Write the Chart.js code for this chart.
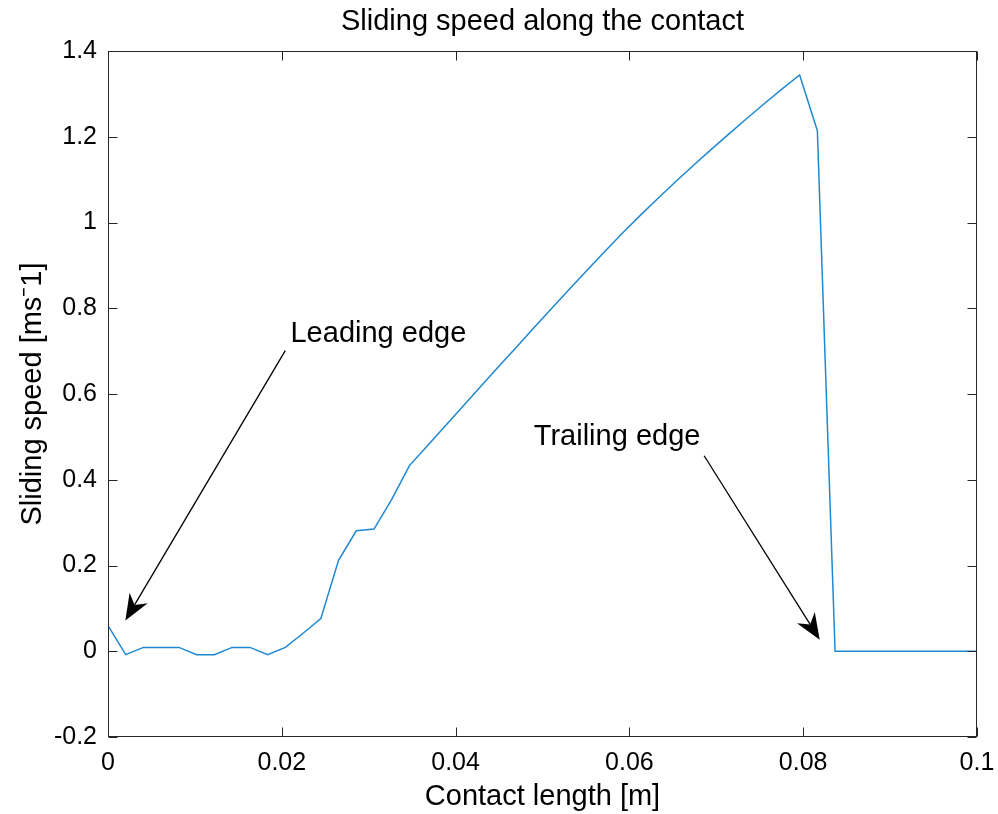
<!DOCTYPE html>
<html>
<head>
<meta charset="utf-8">
<title>Sliding speed along the contact</title>
<script src="https://cdn.jsdelivr.net/npm/chart.js@4"></script>
<style>
  html, body { margin: 0; padding: 0; background: #fff; }
  #wrap { width: 998px; height: 814px; }
</style>
</head>
<body>
<div id="wrap"><canvas id="speedChart" width="998" height="814"></canvas></div>
<script>
// contact position [m], 50 samples across the contact
const contactLength = [
  0, 0.00204, 0.00408, 0.00612, 0.00816, 0.01020, 0.01224, 0.01429, 0.01633, 0.01837,
  0.02041, 0.02245, 0.02449, 0.02653, 0.02857, 0.03061, 0.03265, 0.03469, 0.03673, 0.03878,
  0.04082, 0.04286, 0.04490, 0.04694, 0.04898, 0.05102, 0.05306, 0.05510, 0.05714, 0.05918,
  0.06122, 0.06327, 0.06531, 0.06735, 0.06939, 0.07143, 0.07347, 0.07551, 0.07755, 0.07959,
  0.08163, 0.08367, 0.08571, 0.08776, 0.08980, 0.09184, 0.09388, 0.09592, 0.09796, 0.1
];
// sliding speed [m/s]
const slidingSpeed = [
  0.060, -0.008, 0.009, 0.009, 0.009, -0.008, -0.008, 0.009, 0.009, -0.008,
  0.009, 0.042, 0.076, 0.212, 0.281, 0.285, 0.354, 0.433, 0.479, 0.525,
  0.571, 0.617, 0.663, 0.708, 0.754, 0.799, 0.844, 0.888, 0.932, 0.975,
  1.016, 1.056, 1.095, 1.133, 1.170, 1.206, 1.242, 1.277, 1.311, 1.344,
  1.214, 0, 0, 0, 0, 0, 0, 0, 0, 0
];

const xTickValues = [0, 0.02, 0.04, 0.06, 0.08, 0.1];
const xTickLabels = ["0", "0.02", "0.04", "0.06", "0.08", "0.1"];
const yTickValues = [-0.2, 0, 0.2, 0.4, 0.6, 0.8, 1, 1.2, 1.4];
const yTickLabels = ["-0.2", "0", "0.2", "0.4", "0.6", "0.8", "1", "1.2", "1.4"];

// annotations: label anchor + arrow from -> to, in data units
const notes = [
  { text: "Leading edge",  tx: 0.0210, ty: 0.722, from: [0.0204, 0.701], to: [0.0020, 0.072] },
  { text: "Trailing edge", tx: 0.0490, ty: 0.482, from: [0.0686, 0.456], to: [0.0819, 0.027] }
];

const FONT = "'Liberation Sans', Arial, Helvetica, sans-serif";

// box + inward ticks on all four sides
const matlabAxes = {
  id: "matlabAxes",
  afterDraw(chart) {
    const { ctx, chartArea: a, scales: { x, y } } = chart;
    const tl = 9;
    ctx.save();
    ctx.strokeStyle = "#262626";
    ctx.lineWidth = 1;
    const L = Math.round(a.left) + 0.5, R = Math.round(a.right) - 0.5;
    const T = Math.round(a.top) + 0.5, B = Math.round(a.bottom) - 0.5;
    ctx.strokeRect(L, T, R - L, B - T);
    ctx.beginPath();
    xTickValues.forEach(v => {
      const px = Math.round(x.getPixelForValue(v)) + 0.5;
      ctx.moveTo(px, B); ctx.lineTo(px, B - tl);
      ctx.moveTo(px, T); ctx.lineTo(px, T + tl);
    });
    yTickValues.forEach(v => {
      const py = Math.round(y.getPixelForValue(v)) + 0.5;
      ctx.moveTo(L, py); ctx.lineTo(L + tl, py);
      ctx.moveTo(R, py); ctx.lineTo(R - tl, py);
    });
    ctx.stroke();
    ctx.restore();
  }
};

// text annotations with arrows
const arrowNotes = {
  id: "arrowNotes",
  afterDraw(chart) {
    const { ctx, scales: { x, y } } = chart;
    ctx.save();
    ctx.fillStyle = "#000";
    ctx.strokeStyle = "#000";
    ctx.font = "29px " + FONT;
    ctx.textBaseline = "alphabetic";
    ctx.textAlign = "left";
    notes.forEach(n => {
      ctx.fillText(n.text, x.getPixelForValue(n.tx), y.getPixelForValue(n.ty));
      const x0 = x.getPixelForValue(n.from[0]), y0 = y.getPixelForValue(n.from[1]);
      const x1 = x.getPixelForValue(n.to[0]), y1 = y.getPixelForValue(n.to[1]);
      const ang = Math.atan2(y1 - y0, x1 - x0);
      const len = 26, half = 10.5, notch = 18;
      const ux = Math.cos(ang), uy = Math.sin(ang);
      const nx = -uy, ny = ux;
      ctx.lineWidth = 1.3;
      ctx.beginPath();
      ctx.moveTo(x0, y0);
      ctx.lineTo(x1 - ux * notch, y1 - uy * notch);
      ctx.stroke();
      ctx.beginPath();
      ctx.moveTo(x1, y1);
      ctx.lineTo(x1 - ux * len + nx * half, y1 - uy * len + ny * half);
      ctx.lineTo(x1 - ux * notch, y1 - uy * notch);
      ctx.lineTo(x1 - ux * len - nx * half, y1 - uy * len - ny * half);
      ctx.closePath();
      ctx.fill();
    });
    ctx.restore();
  }
};

const points = contactLength.map((v, i) => ({ x: v, y: slidingSpeed[i] }));

new Chart(document.getElementById("speedChart"), {
  type: "line",
  data: {
    datasets: [{
      label: "Sliding speed",
      data: points,
      borderColor: "#1e88d2",
      borderWidth: 1.5,
      pointRadius: 0,
      tension: 0,
      fill: false
    }]
  },
  options: {
    responsive: false,
    animation: false,
    devicePixelRatio: 1,
    layout: { padding: { left: 0, right: 21, top: 0, bottom: 0 } },
    plugins: {
      legend: { display: false },
      tooltip: { enabled: false },
      title: {
        display: true,
        fullSize: false,
        text: "Sliding speed along the contact",
        color: "#000",
        font: { family: FONT, size: 29, weight: "normal" },
        padding: { top: 5, bottom: 11.2 }
      }
    },
    scales: {
      x: {
        type: "linear",
        min: 0,
        max: 0.1,
        grid: { display: false, drawTicks: false },
        border: { display: false },
        afterBuildTicks: s => { s.ticks = xTickValues.map(v => ({ value: v })); },
        afterFit: s => { s.height = 77; },
        ticks: {
          color: "#000",
          padding: 3,
          maxRotation: 0,
          font: { family: FONT, size: 25, lineHeight: 1.84 },
          callback: (v, i) => xTickLabels[i]
        },
        title: {
          display: true,
          text: "Contact length [m]",
          color: "#000",
          font: { family: FONT, size: 29 },
          padding: { top: 0, bottom: 0 }
        }
      },
      y: {
        type: "linear",
        min: -0.2,
        max: 1.4,
        grid: { display: false, drawTicks: false },
        border: { display: false },
        afterBuildTicks: s => { s.ticks = yTickValues.map(v => ({ value: v })); },
        afterFit: s => { s.width = 108; },
        ticks: {
          color: "#000",
          padding: 11,
          font: { family: FONT, size: 25 },
          callback: (v, i) => yTickLabels[i]
        },
        title: {
          display: true,
          text: "Sliding speed [ms\u207B1]",
          color: "#000",
          font: { family: FONT, size: 29 },
          padding: { top: 16, bottom: 0 }
        }
      }
    }
  },
  plugins: [matlabAxes, arrowNotes]
});
</script>
</body>
</html>
